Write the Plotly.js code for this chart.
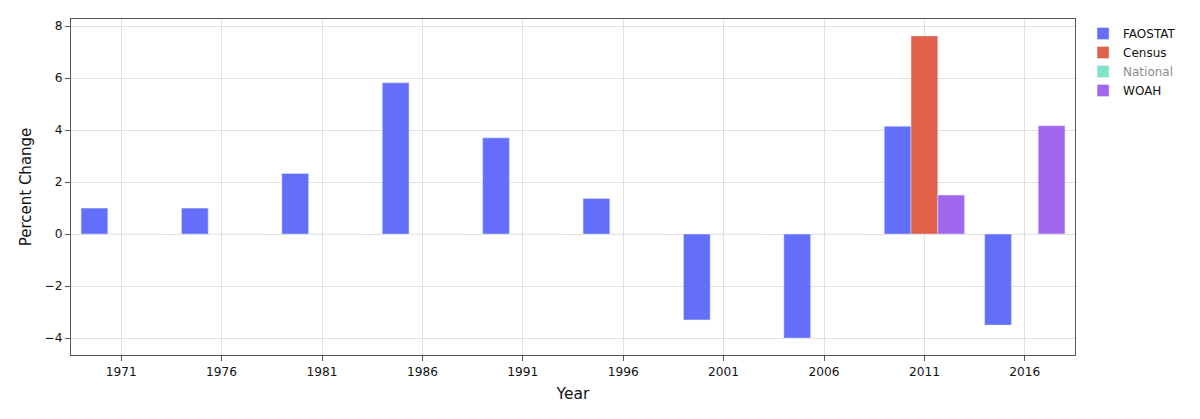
<!DOCTYPE html>
<html>
<head>
<meta charset="utf-8">
<script src="https://cdn.plot.ly/plotly-3.0.1.min.js"></script>
<style>html,body{margin:0;padding:0;background:#fff;}#chart{width:1200px;height:419px;}</style>
</head>
<body>
<div id="chart"></div>
<script>
var years = ["1971","1976","1981","1986","1991","1996","2001","2006","2011","2016"];
var faostat = [1.0, 1.0, 2.33, 5.82, 3.7, 1.37, -3.3, -4.0, 4.15, -3.5];
var census = [0, 0, 0, 0, 0, 0, 0, 0, 7.62, 0];
var national = [null, null, null, null, null, null, null, null, null, null];
var woah = [0, 0, 0, 0, 0, 0, 0, 0, 1.5, 4.17];

var lineStyle = {color: '#E5ECF6', width: 0.5};
var traces = [
  {type: 'bar', name: 'FAOSTAT', x: years, y: faostat, marker: {color: '#636EFA', line: lineStyle}},
  {type: 'bar', name: 'Census', x: years, y: census, marker: {color: '#E0604A', line: lineStyle}},
  {type: 'bar', name: 'National', x: years, y: national, visible: 'legendonly', marker: {color: '#00CC96', line: lineStyle}},
  {type: 'bar', name: 'WOAH', x: years, y: woah, marker: {color: '#A066F0', line: lineStyle}}
];

var font = "'DejaVu Sans', Verdana, sans-serif";
var layout = {
  width: 1200, height: 419,
  margin: {l: 71, r: 125, t: 19, b: 64, autoexpand: false},
  paper_bgcolor: '#fff', plot_bgcolor: '#fff',
  font: {family: font, size: 12, color: '#111'},
  barmode: 'group', bargap: 0.2,
  showlegend: true,
  legend: {x: 1.008, y: 1, xanchor: 'left', yanchor: 'top', font: {size: 12}},
  xaxis: {
    type: 'category',
    title: {text: 'Year', font: {size: 15.5}, standoff: 10},
    showline: true, linecolor: '#555', linewidth: 1, mirror: true,
    ticks: 'outside', ticklen: 5, tickcolor: '#555',
    tickfont: {size: 12.2},
    showgrid: true, gridcolor: '#e0e0e0', zeroline: false
  },
  yaxis: {
    title: {text: 'Percent Change', font: {size: 15}},
    range: [-4.65, 8.27],
    dtick: 2,
    showline: true, linecolor: '#555', linewidth: 1, mirror: true,
    ticks: 'outside', ticklen: 5, tickcolor: '#555',
    tickfont: {size: 12.2},
    showgrid: true, gridcolor: '#e0e0e0', zeroline: false
  }
};
Plotly.newPlot('chart', traces, layout, {displayModeBar: false});
</script>
</body>
</html>
